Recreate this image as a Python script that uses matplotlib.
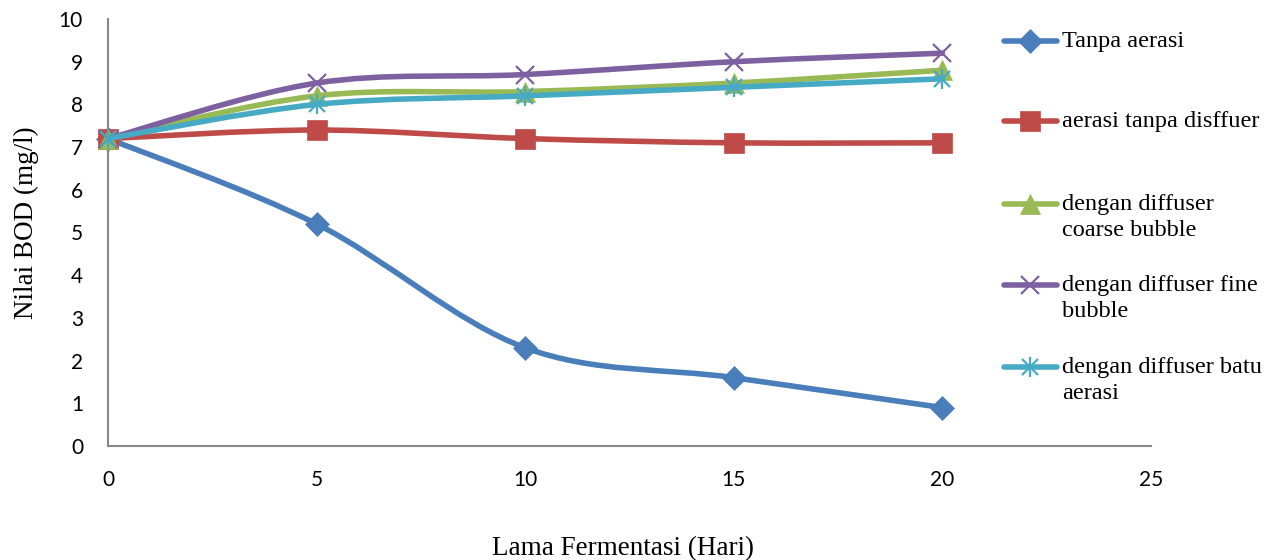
import numpy as np
import matplotlib
matplotlib.use("Agg")
import matplotlib.pyplot as plt
from matplotlib.path import Path
from matplotlib.patches import PathPatch
from matplotlib.lines import Line2D

# data
hari = [0, 5, 10, 15, 20]
tanpa_aerasi = [7.2, 5.2, 2.3, 1.6, 0.9]
aerasi_tanpa_diffuser = [7.2, 7.4, 7.2, 7.1, 7.1]
coarse_bubble = [7.2, 8.2, 8.3, 8.5, 8.8]
fine_bubble = [7.2, 8.5, 8.7, 9.0, 9.2]
batu_aerasi = [7.2, 8.0, 8.2, 8.4, 8.6]

labels = [
    "Tanpa aerasi",
    "aerasi tanpa disffuer",
    "dengan diffuser\ncoarse bubble",
    "dengan diffuser fine\nbubble",
    "dengan diffuser batu\naerasi",
]
series = [tanpa_aerasi, aerasi_tanpa_diffuser, coarse_bubble, fine_bubble, batu_aerasi]
colors = ["#4A7EBB", "#BE4B48", "#98B954", "#7D60A0", "#46AAC5"]
markers = ["D", "s", "^", "x", "x"]
msizes = [12, 14, 14, 13, 12]

SERIF = ["Liberation Serif", "DejaVu Serif"]
SANS = ["Lato", "DejaVu Sans"]


def smooth_path(x, y):
    """Excel-like smoothed line: cubic bezier through the points."""
    pts = np.column_stack([x, y]).astype(float)
    n = len(pts)
    verts = [pts[0]]
    codes = [Path.MOVETO]
    for i in range(n - 1):
        p0 = pts[i - 1] if i > 0 else pts[i]
        p1 = pts[i]
        p2 = pts[i + 1]
        p3 = pts[i + 2] if i + 2 < n else pts[i + 1]
        c1 = p1 + (p2 - p0) / 6.0
        c2 = p2 - (p3 - p1) / 6.0
        verts += [c1, c2, p2]
        codes += [Path.CURVE4] * 3
    return Path(verts, codes)


def draw_marker(target, x, y, i, **kw):
    c = colors[i]
    mew = 1.6 if markers[i] == "x" else 0.5
    arts = [Line2D(x, y, linestyle="none", marker=markers[i], ms=msizes[i],
                   color=c, mec=c, mew=mew, **kw)]
    if i == 4:  # excel "star" marker = x plus a vertical bar
        arts.append(Line2D(x, y, linestyle="none", marker="|", ms=msizes[i] + 2,
                           color=c, mew=1.6, **kw))
    for a in arts:
        target.add_artist(a)


W, H = 1271, 560
LW = 4.0
fig = plt.figure(figsize=(W / 100, H / 100), dpi=100)
ax = fig.add_axes([108 / W, 1 - 446 / H, (1151 - 108) / W, (446 - 19) / H])

for i, (vals, c) in enumerate(zip(series, colors)):
    ax.add_patch(PathPatch(smooth_path(hari, vals), fill=False, edgecolor=c,
                           lw=LW, capstyle="round", zorder=2 + i))
    draw_marker(ax, hari, vals, i, zorder=2.5 + i, clip_on=False)

ax.set_xlim(0, 25)
ax.set_ylim(0, 10)
ax.set_xticks(range(0, 26, 5))
ax.set_yticks(range(0, 11))
for s in ["top", "right"]:
    ax.spines[s].set_visible(False)
for s in ["left", "bottom"]:
    ax.spines[s].set_color("#888888")
    ax.spines[s].set_linewidth(1.5)
ax.tick_params(length=0, labelsize=15)
ax.tick_params(axis="x", pad=17)
ax.tick_params(axis="y", pad=18)
for t in ax.get_xticklabels() + ax.get_yticklabels():
    t.set_family(SANS)

ax.set_xlabel("Lama Fermentasi (Hari)", family=SERIF, fontsize=19.5)
ax.xaxis.set_label_coords(0.494, -0.21)
ax.set_ylabel("Nilai BOD (mg/l)", family=SERIF, fontsize=19.5, va="center")
ax.yaxis.set_label_coords(-0.078, 0.522)

# legend drawn by hand to keep Excel's spacing
leg_y = [41, 121, 204, 285, 367]
LINE_PX = 26
for i, yy in enumerate(leg_y):
    yf = 1 - yy / H
    fig.add_artist(Line2D([1004 / W, 1057 / W], [yf, yf], color=colors[i], lw=LW,
                          solid_capstyle="round", transform=fig.transFigure))
    draw_marker(fig, [1030 / W], [yf], i, transform=fig.transFigure)
    # va="baseline" pins the last line, so push down by the extra lines
    extra = labels[i].count("\n") * LINE_PX
    fig.text(1062 / W, 1 - (yy + 6 + extra) / H, labels[i], family=SERIF,
             fontsize=17.5, ha="left", va="baseline", linespacing=1.3)

fig.savefig("out.png", dpi=100)
